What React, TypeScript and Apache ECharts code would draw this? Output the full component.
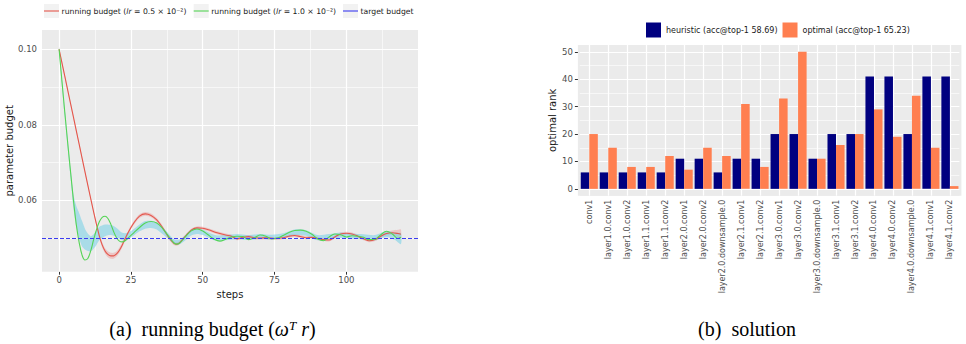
import React, { useEffect, useRef } from 'react';
import * as echarts from 'echarts';

const FONT = 'DejaVu Sans';
const SERIF = 'Liberation Serif';
const RED = '#E4574C';
const GREEN = '#55D455';
const BLUE = '#3B3BF0';

// ---- left panel: running budget ----
const redSteps = [0, 2, 4, 6, 8, 10, 12, 13, 14, 15, 16, 17, 18, 19, 20, 21, 22, 24, 26, 28, 30, 32, 34, 36, 38, 40, 41, 42, 44, 46, 48, 50, 52, 55, 58, 60, 62, 64, 66, 68, 70, 72, 75, 78, 80, 82, 84, 86, 88, 90, 92, 94, 96, 98, 100, 102, 104, 106, 108, 110, 112, 114, 116, 118, 119];
const redValues = [0.1, 0.0928, 0.0856, 0.0784, 0.0712, 0.064, 0.057, 0.0537, 0.0506, 0.0482, 0.0466, 0.0457, 0.0453, 0.0453, 0.0458, 0.0468, 0.0482, 0.0514, 0.054, 0.0558, 0.0564, 0.056, 0.0548, 0.0528, 0.0504, 0.0486, 0.0484, 0.0488, 0.0505, 0.0521, 0.0527, 0.0526, 0.0522, 0.0514, 0.0508, 0.0505, 0.0498, 0.0502, 0.0504, 0.0501, 0.05, 0.0501, 0.0499, 0.0501, 0.0505, 0.0507, 0.0504, 0.0501, 0.0502, 0.0499, 0.0496, 0.0495, 0.0503, 0.0511, 0.0513, 0.0511, 0.0505, 0.0498, 0.0493, 0.0496, 0.0505, 0.0512, 0.0514, 0.0512, 0.051];
const redBandHalf = [0.0005, 0.0004, 0.0004, 0.0004, 0.0004, 0.0004, 0.0004, 0.0005, 0.0006, 0.0007, 0.0007, 0.0008, 0.0008, 0.0008, 0.0007, 0.0007, 0.0006, 0.0005, 0.0005, 0.0005, 0.0005, 0.0005, 0.0005, 0.0005, 0.0005, 0.0005, 0.0004, 0.0004, 0.0004, 0.0004, 0.0004, 0.0004, 0.0004, 0.0004, 0.0004, 0.0004, 0.0004, 0.0004, 0.0004, 0.0004, 0.0004, 0.0004, 0.0004, 0.0004, 0.0004, 0.0004, 0.0004, 0.0004, 0.0004, 0.0004, 0.0004, 0.0004, 0.0004, 0.0004, 0.0004, 0.0004, 0.0004, 0.0004, 0.0004, 0.0004, 0.0004, 0.0005, 0.0006, 0.001, 0.0013];

const greenSteps = [0, 1, 2, 3, 4, 5, 6, 7, 8, 9, 10, 11, 12, 13, 14, 15, 16, 17, 18, 19, 20, 21, 22, 23, 24, 26, 28, 30, 32, 34, 36, 38, 40, 41, 42, 44, 46, 48, 50, 52, 54, 56, 58, 60, 62, 64, 66, 68, 70, 72, 74, 76, 78, 80, 82, 84, 86, 88, 90, 92, 94, 96, 98, 100, 102, 104, 106, 108, 110, 112, 114, 116, 118, 119];
const greenValues = [0.1, 0.0915, 0.0832, 0.0752, 0.0675, 0.06, 0.0535, 0.0488, 0.0455, 0.0442, 0.0446, 0.0466, 0.0495, 0.0522, 0.0543, 0.0555, 0.0558, 0.0552, 0.0537, 0.0517, 0.0501, 0.0492, 0.049, 0.0493, 0.05, 0.0514, 0.0528, 0.054, 0.0544, 0.054, 0.0526, 0.0506, 0.0487, 0.0484, 0.0487, 0.0504, 0.0519, 0.0524, 0.0519, 0.0508, 0.0497, 0.0492, 0.0497, 0.0503, 0.0505, 0.0504, 0.0496, 0.0501, 0.0508, 0.0505, 0.0498, 0.05, 0.0507, 0.0515, 0.052, 0.0521, 0.0518, 0.051, 0.0498, 0.0493, 0.0503, 0.0511, 0.0509, 0.0503, 0.0506, 0.0505, 0.0502, 0.0496, 0.0497, 0.0509, 0.0518, 0.0511, 0.0499, 0.0502];

const greenBandSteps = [0, 2, 4, 5, 6, 7, 8, 9, 10, 11, 12, 13, 14, 16, 18, 20, 22, 24, 26, 28, 30, 32, 34, 36, 38, 40, 42, 44, 46, 48, 50, 52, 55, 58, 62, 66, 70, 74, 78, 82, 86, 90, 94, 98, 102, 106, 110, 114, 117, 119];
const greenBandLow = [0.0995, 0.082, 0.066, 0.058, 0.053, 0.0498, 0.0478, 0.047, 0.0466, 0.0465, 0.0472, 0.0482, 0.0494, 0.0505, 0.0508, 0.0503, 0.0494, 0.0497, 0.0507, 0.0518, 0.0525, 0.0527, 0.0523, 0.0511, 0.0498, 0.0485, 0.0484, 0.0494, 0.0507, 0.0511, 0.0508, 0.0501, 0.0492, 0.0494, 0.0497, 0.0495, 0.0498, 0.0496, 0.05, 0.0508, 0.0506, 0.0494, 0.0497, 0.0501, 0.0498, 0.0496, 0.0494, 0.0503, 0.0495, 0.0484];
const greenBandHigh = [0.1005, 0.084, 0.0685, 0.0615, 0.0585, 0.0566, 0.0545, 0.0525, 0.0512, 0.0505, 0.051, 0.0521, 0.053, 0.0536, 0.0535, 0.0527, 0.0514, 0.0514, 0.0524, 0.0536, 0.0545, 0.0546, 0.0541, 0.0528, 0.0513, 0.0497, 0.0496, 0.0509, 0.0523, 0.0527, 0.0523, 0.0515, 0.0507, 0.0508, 0.0511, 0.0508, 0.0511, 0.0509, 0.0513, 0.0523, 0.0521, 0.0508, 0.0511, 0.0515, 0.0512, 0.051, 0.0508, 0.0519, 0.0514, 0.0513];

const targetBudget = 0.05;
const stepTicks = [0, 25, 50, 75, 100];
const stepMinor = [12.5, 37.5, 62.5, 87.5, 112.5];
const budgetTicks = [0.06, 0.08, 0.1];
const budgetMinor = [0.05, 0.07, 0.09];

// ---- right panel: solution ----
const layers = ['conv1', 'layer1.0.conv1', 'layer1.0.conv2', 'layer1.1.conv1', 'layer1.1.conv2', 'layer2.0.conv1', 'layer2.0.conv2', 'layer2.0.downsample.0', 'layer2.1.conv1', 'layer2.1.conv2', 'layer3.0.conv1', 'layer3.0.conv2', 'layer3.0.downsample.0', 'layer3.1.conv1', 'layer3.1.conv2', 'layer4.0.conv1', 'layer4.0.conv2', 'layer4.0.downsample.0', 'layer4.1.conv1', 'layer4.1.conv2'];
const heuristicRank = [6, 6, 6, 6, 6, 11, 11, 6, 11, 11, 20, 20, 11, 20, 20, 41, 41, 20, 41, 41];
const optimalRank = [20, 15, 8, 8, 12, 7, 15, 12, 31, 8, 33, 50, 11, 16, 20, 29, 19, 34, 15, 1];
const rankTicks = [0, 10, 20, 30, 40, 50];
const rankMinor = [5, 15, 25, 35, 45];
const heuristicName = 'heuristic (acc@top-1 58.69)';
const optimalName = 'optimal (acc@top-1 65.23)';

const pairs = (xs: number[], ys: number[]) => xs.map((x, i) => [x, ys[i]]);
const major = { color: '#ffffff', width: 1.2, type: 'solid' };
const minor = { color: '#ffffff', width: 0.6, type: 'solid' };
const tickStyle = { color: '#333333', width: 1 };
const labelStyle = { fontSize: 8.5, color: '#4d4d4d', fontFamily: FONT };
const nameStyle = { fontSize: 10, color: '#1a1a1a', fontFamily: FONT };

function gridLineSeries(xi: number, xs: any[], xsMinor: any[], ys: number[], ysMinor: number[]) {
  return {
    type: 'line',
    xAxisIndex: xi,
    yAxisIndex: xi,
    data: [],
    silent: true,
    markLine: {
      silent: true,
      z: 1,
      symbol: ['none', 'none'],
      label: { show: false },
      emphasis: { disabled: true },
      data: [
        ...xsMinor.map((v) => ({ xAxis: v, lineStyle: minor })),
        ...ysMinor.map((v) => ({ yAxis: v, lineStyle: minor })),
        ...xs.map((v) => ({ xAxis: v, lineStyle: major })),
        ...ys.map((v) => ({ yAxis: v, lineStyle: major })),
      ],
    },
  };
}

function bandSeries(steps: number[], lo: number[], hi: number[], fill: string) {
  return {
    type: 'custom',
    xAxisIndex: 0,
    yAxisIndex: 0,
    silent: true,
    z: 2,
    data: [[steps[0], lo[0]]],
    renderItem: (_p: any, api: any) => {
      const upper = steps.map((s, i) => api.coord([s, hi[i]]));
      const lower = steps.map((s, i) => api.coord([s, lo[i]])).reverse();
      return {
        type: 'polygon',
        shape: { points: upper.concat(lower), smooth: 0.25 },
        style: { fill },
      };
    },
  };
}

function legendKey(x: number, color: string, label: string) {
  return [
    { type: 'rect', shape: { x, y: 4, width: 15, height: 14 }, style: { fill: '#f2f2f2' } },
    { type: 'line', shape: { x1: x, y1: 11, x2: x + 15, y2: 11 }, style: { stroke: color, lineWidth: 1.1 } },
    {
      type: 'text',
      x: x + 17.5,
      y: 11,
      style: {
        text: label,
        fontSize: 7.7,
        fontFamily: FONT,
        fill: '#1a1a1a',
        verticalAlign: 'middle',
        rich: { i: { fontStyle: 'italic', fontSize: 7.7, fontFamily: FONT, fill: '#1a1a1a' } },
      },
    },
  ];
}

export default function App() {
  const ref = useRef<HTMLDivElement>(null);
  useEffect(() => {
    if (!ref.current) return;
    const chart = echarts.init(ref.current, null, { renderer: 'svg' });
    const option: any = {
      animation: false,
      backgroundColor: '#ffffff',
      textStyle: { fontFamily: FONT },
      grid: [
        { left: 42, top: 30, width: 376, height: 241.7, show: true, backgroundColor: '#ebebeb', borderWidth: 0 },
        { left: 579.8, top: 45, width: 379.6, height: 150.7, show: true, backgroundColor: '#ebebeb', borderWidth: 0 },
      ],
      legend: {
        data: [heuristicName, optimalName],
        left: 641,
        top: 17.5,
        itemWidth: 15,
        itemHeight: 15,
        itemGap: 5,
        icon: 'rect',
        selectedMode: false,
        textStyle: { fontSize: 8, color: '#1a1a1a', fontFamily: FONT },
      },
      xAxis: [
        {
          type: 'value',
          gridIndex: 0,
          min: -5.95,
          max: 124.95,
          axisLine: { show: false },
          splitLine: { show: false },
          axisTick: { show: true, customValues: stepTicks, length: 3, lineStyle: tickStyle },
          axisLabel: { ...labelStyle, customValues: stepTicks, margin: 4 },
          name: 'steps',
          nameLocation: 'middle',
          nameGap: 15,
          nameTextStyle: nameStyle,
        },
        {
          type: 'category',
          gridIndex: 1,
          data: layers,
          axisLine: { show: false },
          splitLine: { show: false },
          axisTick: { show: true, alignWithLabel: true, length: 3, lineStyle: tickStyle },
          axisLabel: { ...labelStyle, fontSize: 8, rotate: 90, interval: 0, margin: 4 },
        },
      ],
      yAxis: [
        {
          type: 'value',
          gridIndex: 0,
          min: 0.0411,
          max: 0.1051,
          axisLine: { show: false },
          splitLine: { show: false },
          axisTick: { show: true, customValues: budgetTicks, length: 3, lineStyle: tickStyle },
          axisLabel: { ...labelStyle, customValues: budgetTicks, margin: 5, formatter: (v: number) => v.toFixed(2) },
          name: 'parameter budget',
          nameLocation: 'middle',
          nameRotate: 90,
          nameGap: 26,
          nameTextStyle: nameStyle,
        },
        {
          type: 'value',
          gridIndex: 1,
          min: -2.5,
          max: 52.5,
          offset: 1.9,
          axisLine: { show: false },
          splitLine: { show: false },
          axisTick: { show: true, customValues: rankTicks, length: 3, lineStyle: tickStyle },
          axisLabel: { ...labelStyle, customValues: rankTicks, margin: 5 },
          name: 'optimal rank',
          nameLocation: 'middle',
          nameRotate: 90,
          nameGap: 20,
          nameTextStyle: nameStyle,
        },
      ],
      graphic: [
        { type: 'rect', z: -1, shape: { x: 577.9, y: 45, width: 383.5, height: 150.7 }, style: { fill: '#ebebeb' } },
        ...legendKey(44, RED, 'running budget ({i|lr} = 0.5 × 10⁻²)'),
        ...legendKey(193.7, GREEN, 'running budget ({i|lr} = 1.0 × 10⁻²)'),
        ...legendKey(343, BLUE, 'target budget'),
        {
          type: 'text',
          x: 212.5,
          y: 329,
          style: {
            text: '(a)  running budget ({i|ω}{sup|T}{i| r})',
            fontSize: 20,
            fontFamily: SERIF,
            fill: '#000000',
            align: 'center',
            verticalAlign: 'middle',
            rich: {
              i: { fontStyle: 'italic', fontSize: 20, fontFamily: SERIF, fill: '#000000' },
              sup: { fontStyle: 'italic', fontSize: 13, fontFamily: SERIF, fill: '#000000', verticalAlign: 'top' },
            },
          },
        },
        {
          type: 'text',
          x: 747,
          y: 329,
          style: {
            text: '(b)  solution',
            fontSize: 20,
            fontFamily: SERIF,
            fill: '#000000',
            align: 'center',
            verticalAlign: 'middle',
          },
        },
      ],
      series: [
        gridLineSeries(0, stepTicks, stepMinor, budgetTicks, budgetMinor),
        gridLineSeries(1, layers, [], rankTicks, rankMinor),
        bandSeries(
          redSteps,
          redValues.map((v, i) => v - redBandHalf[i]),
          redValues.map((v, i) => v + redBandHalf[i]),
          'rgba(235, 130, 130, 0.35)'
        ),
        bandSeries(greenBandSteps, greenBandLow, greenBandHigh, 'rgba(115, 208, 230, 0.55)'),
        {
          type: 'line',
          xAxisIndex: 0,
          yAxisIndex: 0,
          data: pairs(redSteps, redValues),
          smooth: 0.35,
          symbol: 'none',
          silent: true,
          z: 3,
          lineStyle: { color: RED, width: 1.1 },
        },
        {
          type: 'line',
          xAxisIndex: 0,
          yAxisIndex: 0,
          data: pairs(greenSteps, greenValues),
          smooth: 0.35,
          symbol: 'none',
          silent: true,
          z: 3,
          lineStyle: { color: GREEN, width: 1.1 },
          markLine: {
            silent: true,
            z: 6,
            symbol: ['none', 'none'],
            label: { show: false },
            lineStyle: { color: BLUE, width: 1, type: [4, 2] },
            data: [{ yAxis: targetBudget }],
          },
        },
        {
          type: 'bar',
          name: heuristicName,
          xAxisIndex: 1,
          yAxisIndex: 1,
          data: heuristicRank,
          barGap: '0%',
          barCategoryGap: '10%',
          itemStyle: { color: '#000080' },
          z: 2,
        },
        {
          type: 'bar',
          name: optimalName,
          xAxisIndex: 1,
          yAxisIndex: 1,
          data: optimalRank,
          barGap: '0%',
          barCategoryGap: '10%',
          itemStyle: { color: '#FF7F50' },
          z: 2,
        },
      ],
    };
    chart.setOption(option);
    return () => chart.dispose();
  }, []);
  return (
    <div
      ref={ref}
      style={{ position: 'absolute', left: 0, top: 0, width: 966, height: 344, background: '#ffffff' }}
    />
  );
}
